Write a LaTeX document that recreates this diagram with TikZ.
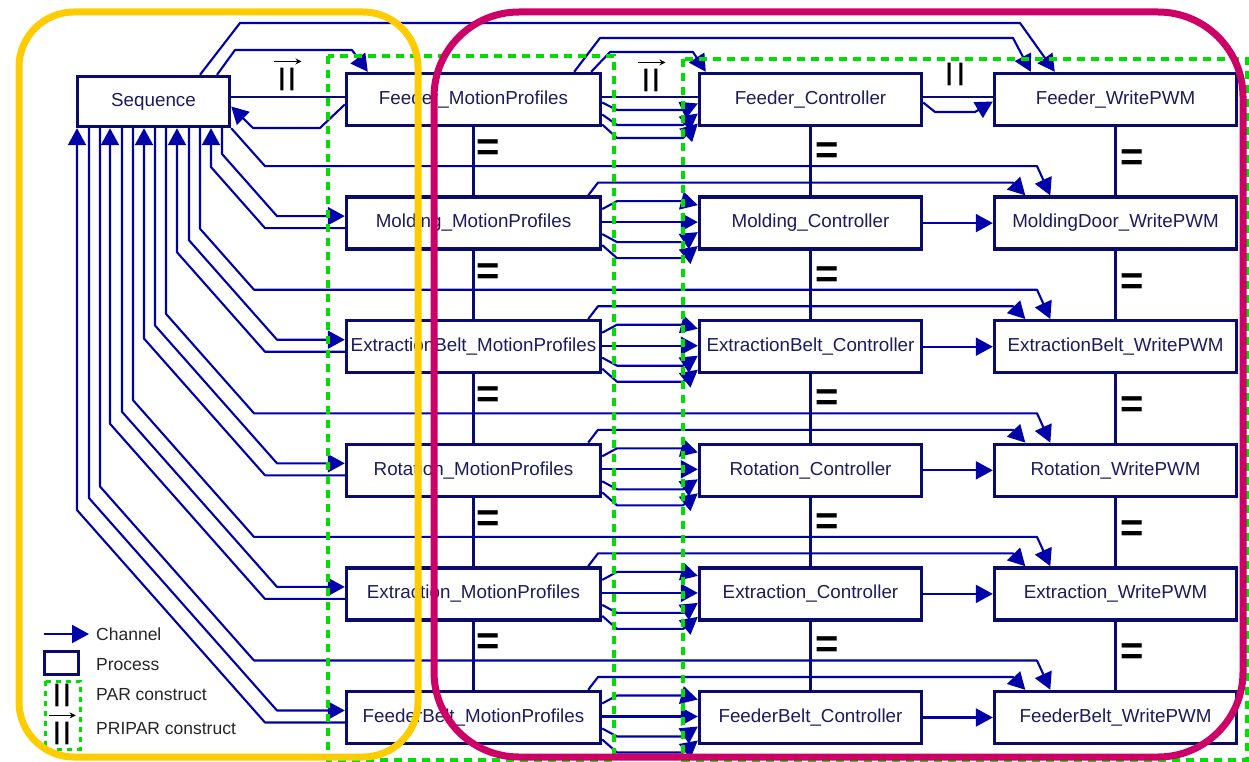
\documentclass[tikz,border=0pt]{standalone}
\usepackage{fontspec}
\setmainfont{Liberation Sans}
\usetikzlibrary{arrows.meta,calc}
\definecolor{navy}{HTML}{0B0B6B}
\definecolor{chblue}{HTML}{0000AA}
\definecolor{txtnavy}{HTML}{1C1C5C}
\definecolor{pargreen}{HTML}{00DD00}
\definecolor{goldy}{HTML}{FFCC00}
\definecolor{magen}{HTML}{CC0066}
\tikzset{
 procbox/.style={draw=navy, line width=3.4pt, fill=white, minimum height=52pt, inner sep=0pt, text=txtnavy, font=\fontsize{18.8}{20}\selectfont},
 mpbox/.style={procbox, minimum width=254pt},
 ctbox/.style={procbox, minimum width=222pt},
 wpbox/.style={procbox, minimum width=242pt},
 chan/.style={draw=chblue, line width=2.1pt, line join=round, -{Triangle[length=17pt,width=18pt]}},
 constr/.style={draw=navy, line width=2.8pt},
 eqs/.style={font=\fontsize{40}{40}\selectfont\bfseries, inner sep=0pt, text=black},
 parsym/.style={font=\fontsize{24}{24}\selectfont\bfseries, inner sep=0pt, text=black},
 pritip/.style={-{Stealth[length=6pt,width=6pt]}, line width=1.6pt, draw=black},
 grp/.style={draw=pargreen, line width=3.6pt, dash pattern=on 8pt off 6pt},
 legtxt/.style={font=\fontsize{17.5}{20}\selectfont, text=black!85, anchor=west, inner sep=0pt},
}
\begin{document}
\begin{tikzpicture}[x=1pt,y=-1pt]
\useasboundingbox (0,0) rectangle (1249,762);
\fill[white] (0,0) rectangle (1249,762);

% processes
\node[procbox, minimum width=152pt, minimum height=50pt] (seq) at (153.5,101.5) {Sequence};
\foreach \k/\nm/\wn in {1/Feeder/Feeder,2/Molding/MoldingDoor,3/ExtractionBelt/ExtractionBelt,4/Rotation/Rotation,5/Extraction/Extraction,6/FeederBelt/FeederBelt}{
  \pgfmathsetmacro\yc{72+123.6*(\k-1)+27.5}
  \node[mpbox] (mp\k) at (473.5,\yc) {\nm\_MotionProfiles};
  \node[ctbox] (ct\k) at (810.5,\yc) {\nm\_Controller};
  \node[wpbox] (wp\k) at (1115.5,\yc) {\wn\_WritePWM};
}

% construct lines
\foreach \k/\j in {1/2,2/3,3/4,4/5,5/6}{
  \draw[constr] (mp\k.south) -- (mp\j.north);
  \draw[constr] (ct\k.south) -- (ct\j.north);
  \draw[constr] (wp\k.south) -- (wp\j.north);
  \pgfmathsetmacro\T{72+123.6*(\k-1)}
  \node[eqs] (eqm\k) at (488,\T+78) {=};
  \node[eqs] (eqc\k) at (827,\T+81) {=};
  \node[eqs] (eqw\k) at (1132,\T+88) {=};
}
\coordinate (r1) at (0,97);
\draw[constr] (seq.east|-r1) -- (mp1.west|-r1) (mp1.east|-r1) -- (ct1.west|-r1) (ct1.east|-r1) -- (wp1.west|-r1);

\node[parsym] (pri1) at (287,79) {|\hspace{3.3pt}|};
\draw[pritip] ($(pri1.north west)+(-4,-6)$) -- ($(pri1.north east)+(6,-6)$);
\node[parsym] (pri2) at (651,80) {|\hspace{3.3pt}|};
\draw[pritip] ($(pri2.north west)+(-4,-6)$) -- ($(pri2.north east)+(6,-6)$);
\node[parsym] (par1) at (955,74) {|\hspace{5pt}|};

% row 1 channels
\draw[chan] ($(seq.north)+(63.5,0)$) -- (235,50) -- (352,50) -- ($(mp1.north west)+(23,0)$);
\draw[chan] ($(seq.north)+(46.5,0)$) -- (240,23) -- (1020,23) -- ($(wp1.north west)+(62,0)$);
\draw[chan] ($(mp1.west)+(0,5)$) -- (320,128) -- (253,128) -- ($(seq.east)+(0,5)$);
\draw[chan] ($(mp1.north east)+(-28,0)$) -- (600,38) -- (1013,38) -- ($(wp1.north west)+(38,0)$);
\draw[chan] ($(mp1.north east)+(-11,0)$) -- (610,52) -- (693,52) -- ($(ct1.north west)+(8,0)$);
\draw[chan] ($(mp1.east)+(0,3)$) -- (617,110) -- (683,110) -- ($(ct1.west)+(0,4)$);
\draw[chan] ($(mp1.east)+(0,15)$) -- (617,125) -- (683,125) -- ($(ct1.west)+(0,14)$);
\draw[chan] ($(mp1.east)+(0,25)$) -- (617,138) -- (683,138) -- ($(ct1.west)+(0,24)$);
\draw[chan] ($(ct1.east)+(0,3)$) -- (935,112) -- (975,112) -- ($(wp1.west)+(0,2)$);

% rows 2..6 channels
\foreach \k/\sa/\sb/\sw in {2/222/211/0,3/189/177/200,4/155/144/166,5/122/110/133,6/89/77/100}{
  \pgfmathsetmacro\T{72+123.6*(\k-1)}
  \pgfmathsetmacro\yc{\T+27.5}
  \pgfmathsetmacro\ya{\yc-7}
  \pgfmathsetmacro\yb{\yc+5}
  \pgfmathsetmacro\yh{\T-29.5}
  \pgfmathsetmacro\ysa{\ya-1.13*(277-\sa)}
  \pgfmathsetmacro\ysb{\yb-1.13*(265-\sb)}
  \pgfmathsetmacro\ysw{\yh-1.13*(254-\sw)}
  \draw[chan] ($(seq.south)+(\sa-153.5,0)$) -- (\sa,\ysa) -- (277,\ya) -- ($(mp\k.west)+(0,-7)$);
  \draw[chan] ($(mp\k.west)+(0,5)$) -- (265,\yb) -- (\sb,\ysb) -- ($(seq.south)+(\sb-153.5,0)$);
  \ifnum\k=2
    \draw[chan] (seq.south east) -- (265,\yh) -- (1037,\yh) -- ($(wp\k.north west)+(57.5,0)$);
  \else
    \draw[chan] ($(seq.south)+(\sw-153.5,0)$) -- (\sw,\ysw) -- (254,\yh) -- (1037,\yh) -- ($(wp\k.north west)+(57.5,0)$);
  \fi
  \draw[chan] ($(mp\k.north east)+(-14,0)$) -- (598,\T-13) -- (1013,\T-13) -- ($(wp\k.north west)+(32.5,0)$);
  \draw[chan] ($(mp\k.east)+(0,-14)$) -- (617,\yc-22) -- (683,\yc-22) -- ($(ct\k.west)+(0,-18)$);
  \draw[chan] ($(mp\k.east)+(0,-1)$) -- ($(ct\k.west)+(0,-1)$);
  \draw[chan] ($(mp\k.east)+(0,11)$) -- (617,\yc+19) -- (683,\yc+19) -- ($(ct\k.west)+(0,9)$);
  \draw[chan] ($(mp\k.east)+(0,22)$) -- (617,\yc+35) -- (683,\yc+35) -- ($(ct\k.west)+(0,23)$);
  \draw[chan] (ct\k) -- (wp\k);
}

% legend
\coordinate (lgA) at (44,634);
\node[legtxt] (lch) at (96,634) {Channel};
\draw[chan] (lgA) -- ($(lch.west)+(-7,0)$);
\node[draw=navy, line width=3.4pt, minimum width=34pt, minimum height=23pt, inner sep=0pt] (lpr) at (61.5,663) {};
\node[legtxt] (lpt) at (96,665) {Process};
\draw[grp, line width=3pt, dash pattern=on 5pt off 5pt] (45,681) rectangle (80,749);
\node[parsym] (lpar) at (62,695) {|\hspace{3.5pt}|};
\node[legtxt] (lpat) at (96,695) {PAR construct};
\node[parsym] (lpri) at (62,733) {|\hspace{3.5pt}|};
\draw[pritip] ($(lpri.north west)+(-4,-6)$) -- ($(lpri.north east)+(5,-6)$);
\node[legtxt] (lprt) at (96,729) {PRIPAR construct};

% groups
\draw[grp] (328,56) rectangle (614,760);
\draw[grp] (683,59) rectangle (1247,760);
\draw[line width=7pt, draw=goldy, rounded corners=55pt] (19,12) rectangle (418,757);
\draw[line width=7pt, draw=magen, rounded corners=85pt] (434,12) rectangle (1243,757);
\end{tikzpicture}
\end{document}
